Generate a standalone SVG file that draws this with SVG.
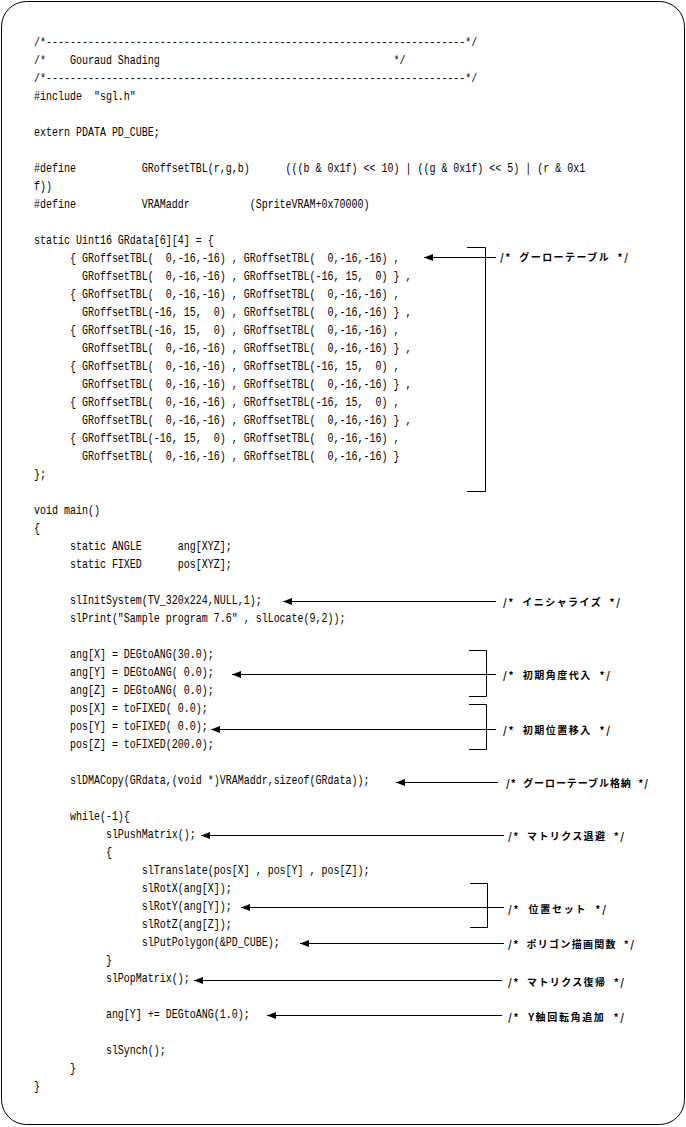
<svg xmlns="http://www.w3.org/2000/svg" width="686" height="1127" viewBox="0 0 686 1127" xml:space="preserve">
<style>
.code{font-family:"Liberation Mono","DejaVu Sans Mono",monospace;font-size:13px;fill:#000;white-space:pre}
.note{font-family:"Noto Sans CJK JP","Noto Sans",sans-serif;font-size:10px;font-weight:bold;fill:#000;white-space:pre}
.ln{stroke:#000;stroke-width:1;fill:none}
</style>
<defs>
<marker id="ah" markerUnits="userSpaceOnUse" markerWidth="10" markerHeight="8" refX="9" refY="3.5" orient="auto">
<path d="M0,0 L9,3.5 L0,7 z" fill="#000"/>
</marker>
</defs>
<rect id="frame" x="1.5" y="1.5" width="683" height="1123" rx="25" ry="25" fill="#fff" stroke="#000" stroke-width="1"/>
<g id="code" transform="scale(0.769231,1)">
<text class="code" x="44.2" y="46">/*----------------------------------------------------------------------*/</text>
<text class="code" x="44.2" y="64">/*    Gouraud Shading                                       */</text>
<text class="code" x="44.2" y="82">/*----------------------------------------------------------------------*/</text>
<text class="code" x="44.2" y="100">#include  "sgl.h"</text>
<text class="code" x="44.2" y="136">extern PDATA PD_CUBE;</text>
<text class="code" x="44.2" y="172">#define           GRoffsetTBL(r,g,b)      (((b &amp; 0x1f) &lt;&lt; 10) | ((g &amp; 0x1f) &lt;&lt; 5) | (r &amp; 0x1</text>
<text class="code" x="44.2" y="190">f))</text>
<text class="code" x="44.2" y="208">#define           VRAMaddr          (SpriteVRAM+0x70000)</text>
<text class="code" x="44.2" y="244">static Uint16 GRdata[6][4] = {</text>
<text class="code" x="44.2" y="262">      { GRoffsetTBL(  0,-16,-16) , GRoffsetTBL(  0,-16,-16) ,</text>
<text class="code" x="44.2" y="280">        GRoffsetTBL(  0,-16,-16) , GRoffsetTBL(-16, 15,  0) } ,</text>
<text class="code" x="44.2" y="298">      { GRoffsetTBL(  0,-16,-16) , GRoffsetTBL(  0,-16,-16) ,</text>
<text class="code" x="44.2" y="316">        GRoffsetTBL(-16, 15,  0) , GRoffsetTBL(  0,-16,-16) } ,</text>
<text class="code" x="44.2" y="334">      { GRoffsetTBL(-16, 15,  0) , GRoffsetTBL(  0,-16,-16) ,</text>
<text class="code" x="44.2" y="352">        GRoffsetTBL(  0,-16,-16) , GRoffsetTBL(  0,-16,-16) } ,</text>
<text class="code" x="44.2" y="370">      { GRoffsetTBL(  0,-16,-16) , GRoffsetTBL(-16, 15,  0) ,</text>
<text class="code" x="44.2" y="388">        GRoffsetTBL(  0,-16,-16) , GRoffsetTBL(  0,-16,-16) } ,</text>
<text class="code" x="44.2" y="406">      { GRoffsetTBL(  0,-16,-16) , GRoffsetTBL(-16, 15,  0) ,</text>
<text class="code" x="44.2" y="424">        GRoffsetTBL(  0,-16,-16) , GRoffsetTBL(  0,-16,-16) } ,</text>
<text class="code" x="44.2" y="442">      { GRoffsetTBL(-16, 15,  0) , GRoffsetTBL(  0,-16,-16) ,</text>
<text class="code" x="44.2" y="460">        GRoffsetTBL(  0,-16,-16) , GRoffsetTBL(  0,-16,-16) }</text>
<text class="code" x="44.2" y="478">};</text>
<text class="code" x="44.2" y="514">void main()</text>
<text class="code" x="44.2" y="532">{</text>
<text class="code" x="44.2" y="550">      static ANGLE      ang[XYZ];</text>
<text class="code" x="44.2" y="568">      static FIXED      pos[XYZ];</text>
<text class="code" x="44.2" y="604">      slInitSystem(TV_320x224,NULL,1);</text>
<text class="code" x="44.2" y="622">      slPrint("Sample program 7.6" , slLocate(9,2));</text>
<text class="code" x="44.2" y="658">      ang[X] = DEGtoANG(30.0);</text>
<text class="code" x="44.2" y="676">      ang[Y] = DEGtoANG( 0.0);</text>
<text class="code" x="44.2" y="694">      ang[Z] = DEGtoANG( 0.0);</text>
<text class="code" x="44.2" y="712">      pos[X] = toFIXED( 0.0);</text>
<text class="code" x="44.2" y="730">      pos[Y] = toFIXED( 0.0);</text>
<text class="code" x="44.2" y="748">      pos[Z] = toFIXED(200.0);</text>
<text class="code" x="44.2" y="784">      slDMACopy(GRdata,(void *)VRAMaddr,sizeof(GRdata));</text>
<text class="code" x="44.2" y="820">      while(-1){</text>
<text class="code" x="44.2" y="838">            slPushMatrix();</text>
<text class="code" x="44.2" y="856">            {</text>
<text class="code" x="44.2" y="874">                  slTranslate(pos[X] , pos[Y] , pos[Z]);</text>
<text class="code" x="44.2" y="892">                  slRotX(ang[X]);</text>
<text class="code" x="44.2" y="910">                  slRotY(ang[Y]);</text>
<text class="code" x="44.2" y="928">                  slRotZ(ang[Z]);</text>
<text class="code" x="44.2" y="946">                  slPutPolygon(&amp;PD_CUBE);</text>
<text class="code" x="44.2" y="964">            }</text>
<text class="code" x="44.2" y="982">            slPopMatrix();</text>
<text class="code" x="44.2" y="1018">            ang[Y] += DEGtoANG(1.0);</text>
<text class="code" x="44.2" y="1054">            slSynch();</text>
<text class="code" x="44.2" y="1072">      }</text>
<text class="code" x="44.2" y="1090">}</text>
</g>
<g id="connectors">
<path class="ln" d="M467,247.5 H485.5 V491.5 H467"/>
<path class="ln" d="M469,650.5 H486.5 V696.5 H469"/>
<path class="ln" d="M469,704.5 H486.5 V749.5 H469"/>
<path class="ln" d="M470,883.5 H487.5 V927.5 H470"/>
<line class="ln" x1="496" y1="257.5" x2="424" y2="257.5" marker-end="url(#ah)"/>
<line class="ln" x1="496" y1="601.5" x2="283" y2="601.5" marker-end="url(#ah)"/>
<line class="ln" x1="496" y1="674.5" x2="232" y2="674.5" marker-end="url(#ah)"/>
<line class="ln" x1="496" y1="729.5" x2="211" y2="729.5" marker-end="url(#ah)"/>
<line class="ln" x1="498" y1="782.5" x2="396" y2="782.5" marker-end="url(#ah)"/>
<line class="ln" x1="504" y1="835.5" x2="201" y2="835.5" marker-end="url(#ah)"/>
<line class="ln" x1="504" y1="907.5" x2="241" y2="907.5" marker-end="url(#ah)"/>
<line class="ln" x1="504" y1="943.5" x2="300" y2="943.5" marker-end="url(#ah)"/>
<line class="ln" x1="502" y1="980.5" x2="194" y2="980.5" marker-end="url(#ah)"/>
<line class="ln" x1="502" y1="1015.5" x2="267" y2="1015.5" marker-end="url(#ah)"/>
</g>
<g id="notes">
<text class="note" x="500" y="261" textLength="128">/*  グーローテーブル  */</text>
<text class="note" x="503" y="606" textLength="117">/*  イニシャライズ  */</text>
<text class="note" x="503" y="679" textLength="107">/*  初期角度代入  */</text>
<text class="note" x="503" y="734" textLength="107">/*  初期位置移入  */</text>
<text class="note" x="506" y="787" textLength="142">/*  グーローテーブル格納  */</text>
<text class="note" x="508" y="840" textLength="116">/*  マトリクス退避  */</text>
<text class="note" x="508" y="913" textLength="98">/*  位置セット  */</text>
<text class="note" x="508" y="948" textLength="126">/*  ポリゴン描画関数  */</text>
<text class="note" x="508" y="986" textLength="116">/*  マトリクス復帰  */</text>
<text class="note" x="508" y="1021" textLength="116">/*  Y軸回転角追加  */</text>
</g>
</svg>
